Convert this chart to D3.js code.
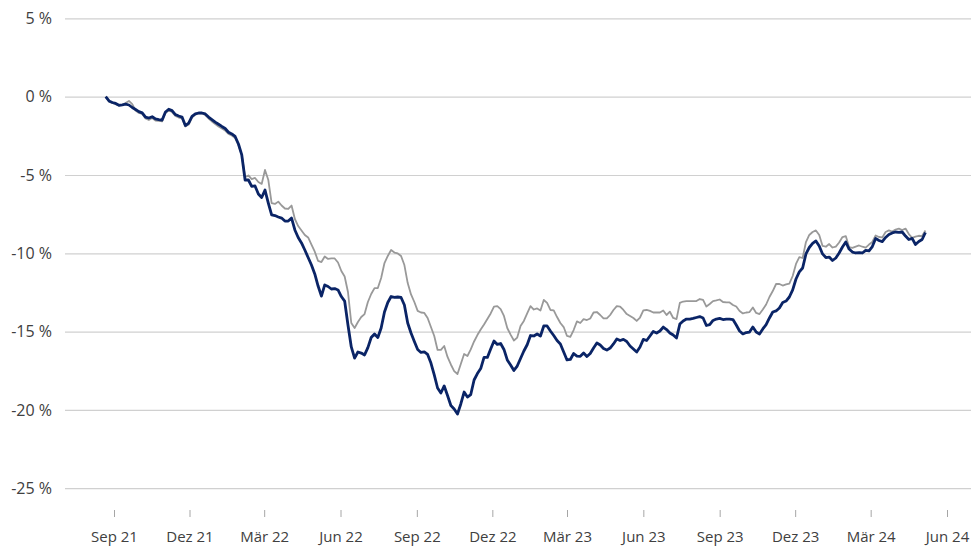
<!DOCTYPE html>
<html>
<head>
<meta charset="utf-8">
<script src="https://cdn.jsdelivr.net/npm/d3@7"></script>
<style>
  body { margin: 0; background: #fff; }
  svg { display: block; }
  .axis text { font-family: "Open Sans", sans-serif; fill: #404040; }
</style>
</head>
<body>
<div id="chart"></div>
<script>
var svgWidth = 971;
var svgHeight = 547;

// series start date, one value every 4 days
var startDate = new Date(2021, 7, 22);
var stepDays = 4;

// dark blue line (%)
var navyValues = [
  0, -0.27, -0.37, -0.43, -0.55, -0.52, -0.48, -0.53, -0.69, -0.82,
  -0.95, -1.03, -1.30, -1.36, -1.28, -1.42, -1.46, -1.49, -0.98, -0.80,
  -0.89, -1.14, -1.23, -1.30, -1.84, -1.68, -1.26, -1.10, -1.04, -1.04,
  -1.10, -1.30, -1.46, -1.62, -1.76, -1.90, -2.03, -2.27, -2.38, -2.54,
  -3.02, -3.72, -5.32, -5.32, -5.73, -5.70, -6.21, -6.44, -5.96, -6.79,
  -7.55, -7.59, -7.68, -7.75, -7.94, -7.94, -7.75, -8.51, -8.99, -9.34,
  -9.79, -10.27, -10.75, -11.32, -12.09, -12.73, -12.02, -12.12, -12.28, -12.25,
  -12.34, -12.76, -13.05, -14.58, -15.98, -16.69, -16.30, -16.37, -16.49, -16.02,
  -15.38, -15.15, -15.38, -14.77, -13.75, -13.14, -12.76, -12.82, -12.79, -12.82,
  -13.30, -14.45, -15.09, -15.63, -16.14, -16.33, -16.30, -16.46, -17.01, -17.77,
  -18.60, -18.92, -18.47, -19.08, -19.72, -19.94, -20.26, -19.62, -18.86, -19.18,
  -19.02, -18.09, -17.68, -17.36, -16.65, -16.65, -16.11, -15.60, -15.82, -15.76,
  -16.14, -16.81, -17.13, -17.48, -17.20, -16.72, -16.24, -15.84, -15.25, -15.28,
  -15.15, -15.28, -14.64, -14.64, -14.96, -15.25, -15.57, -15.79, -16.30, -16.81,
  -16.78, -16.40, -16.56, -16.58, -16.37, -16.59, -16.40, -16.05, -15.73, -15.86,
  -16.08, -16.18, -16.05, -15.79, -15.47, -15.57, -15.50, -15.63, -15.92, -16.11,
  -16.30, -15.98, -15.50, -15.57, -15.28, -14.99, -15.09, -14.96, -14.71, -14.87,
  -15.09, -15.22, -15.41, -14.52, -14.32, -14.20, -14.20, -14.16, -14.10, -14.04,
  -14.13, -14.61, -14.55, -14.29, -14.20, -14.16, -14.23, -14.20, -14.20, -14.23,
  -14.58, -14.96, -15.15, -15.06, -15.03, -14.71, -15.03, -15.15, -14.83, -14.55,
  -14.13, -13.75, -13.68, -13.49, -13.14, -13.05, -12.79, -12.34, -11.64, -11.19,
  -10.94, -10.04, -9.63, -9.37, -9.21, -9.53, -10.04, -10.27, -10.24, -10.46,
  -10.30, -9.98, -9.60, -9.28, -9.73, -9.92, -9.98, -9.95, -9.98, -9.81,
  -9.85, -9.57, -9.05, -9.18, -9.25, -8.99, -8.80, -8.70, -8.64, -8.67,
  -8.64, -8.90, -9.12, -9.05, -9.44, -9.25, -9.12, -8.67
];

// grey line (%)
var greyValues = [
  0, -0.31, -0.40, -0.47, -0.56, -0.53, -0.40, -0.27, -0.47, -0.88,
  -1.04, -1.10, -1.39, -1.49, -1.36, -1.52, -1.55, -1.58, -1.04, -0.88,
  -0.98, -1.23, -1.33, -1.39, -1.90, -1.78, -1.33, -1.14, -1.07, -1.07,
  -1.17, -1.39, -1.58, -1.74, -1.90, -2.03, -2.16, -2.38, -2.48, -2.64,
  -3.08, -3.72, -5.13, -5.03, -5.26, -5.19, -5.45, -5.57, -4.68, -5.32,
  -6.79, -6.85, -6.70, -6.95, -7.14, -7.17, -6.95, -7.81, -8.26, -8.54,
  -8.83, -8.99, -9.44, -9.90, -10.49, -10.56, -10.20, -10.36, -10.33, -10.33,
  -10.59, -11.13, -11.48, -12.47, -14.45, -14.77, -14.39, -14.07, -13.88, -13.11,
  -12.60, -12.22, -12.22, -11.58, -10.62, -10.17, -9.79, -9.95, -10.01, -10.17,
  -10.75, -11.90, -12.63, -13.11, -13.68, -13.78, -13.81, -14.13, -14.71, -15.28,
  -16.17, -16.17, -15.92, -16.62, -17.10, -17.52, -17.71, -17.07, -16.43, -16.56,
  -16.14, -15.63, -15.22, -14.87, -14.55, -14.20, -13.84, -13.40, -13.37, -13.56,
  -14.00, -14.77, -15.19, -15.57, -15.38, -14.64, -14.32, -13.84, -13.37, -13.59,
  -13.52, -13.65, -12.98, -13.17, -13.62, -13.65, -14.07, -14.45, -14.71, -15.28,
  -15.34, -14.90, -14.35, -14.45, -14.20, -14.26, -14.16, -13.78, -13.75, -13.94,
  -14.16, -14.16, -13.94, -13.62, -13.37, -13.40, -13.62, -13.88, -14.00, -14.13,
  -14.32, -14.10, -13.65, -13.62, -13.68, -13.78, -13.78, -13.78, -13.65, -13.94,
  -13.73, -14.13, -14.20, -13.17, -13.08, -13.05, -13.05, -13.05, -13.05, -12.92,
  -12.98, -13.40, -13.24, -13.05, -13.01, -12.95, -13.11, -13.14, -13.14, -13.30,
  -13.40, -13.68, -13.84, -13.78, -13.75, -13.46, -13.81, -13.88, -13.59, -13.27,
  -12.79, -12.41, -11.96, -11.96, -12.06, -11.99, -11.93, -11.45, -10.68, -10.24,
  -10.30, -9.28, -8.83, -8.64, -8.54, -8.83, -9.53, -9.58, -9.41, -9.63,
  -9.57, -9.31, -8.96, -8.90, -9.60, -9.65, -9.57, -9.50, -9.58, -9.64,
  -9.44, -9.28, -8.86, -8.96, -8.99, -8.64, -8.54, -8.61, -8.48, -8.42,
  -8.51, -8.42, -8.77, -9.01, -8.93, -8.88, -8.90, -8.54
];

// axis ticks
var yTicks = [5, 0, -5, -10, -15, -20, -25];
var tickDates = [
  new Date(2021, 8, 1), new Date(2021, 11, 1), new Date(2022, 2, 1), new Date(2022, 5, 1),
  new Date(2022, 8, 1), new Date(2022, 11, 1), new Date(2023, 2, 1), new Date(2023, 5, 1),
  new Date(2023, 8, 1), new Date(2023, 11, 1), new Date(2024, 2, 1), new Date(2024, 5, 1)
];
var tickLabels = ["Sep 21", "Dez 21", "Mär 22", "Jun 22", "Sep 22", "Dez 22",
  "Mär 23", "Jun 23", "Sep 23", "Dez 23", "Mär 24", "Jun 24"];

function dateAt(i) {
  var d = new Date(startDate);
  d.setDate(d.getDate() + i * stepDays);
  return d;
}

var navyData = navyValues.map((v, i) => ({ date: dateAt(i), value: v }));
var greyData = greyValues.map((v, i) => ({ date: dateAt(i), value: v }));

var svg = d3.select("#chart")
  .append("svg")
  .attr("width", svgWidth)
  .attr("height", svgHeight);

var plotLeft = 65;
var plotRight = 971;

var xScale = d3.scaleTime()
  .domain([tickDates[0], tickDates[tickDates.length - 1]])
  .range([114, 947]);

var yScale = d3.scaleLinear()
  .domain([-25, 5])
  .range([488.2, 18.4]);

// y axis with gridlines
var leftAxis = d3.axisLeft(yScale)
  .tickValues(yTicks)
  .tickSize(-(plotRight - plotLeft))
  .tickPadding(13)
  .tickFormat(d => d + " %");

var yAxis = svg.append("g")
  .attr("class", "axis")
  .attr("transform", `translate(${plotLeft}, 0)`)
  .call(leftAxis);

yAxis.select(".domain").remove();
yAxis.selectAll("line").attr("stroke", "#d0d0d0").attr("stroke-width", 1.2);
yAxis.selectAll("text").style("font-size", "16px");

// x axis: tick marks and labels only
var bottomAxis = d3.axisBottom(xScale)
  .tickValues(tickDates)
  .tickSize(7)
  .tickPadding(14)
  .tickFormat((d, i) => tickLabels[i]);

var xAxis = svg.append("g")
  .attr("class", "axis")
  .attr("transform", "translate(0, 510)")
  .call(bottomAxis);

xAxis.select(".domain").remove();
xAxis.selectAll("line").attr("stroke", "#a6a6a6");
xAxis.selectAll("text").style("font-size", "15px");

var line = d3.line()
  .x(d => xScale(d.date))
  .y(d => yScale(d.value));

svg.append("path")
  .datum(greyData)
  .attr("fill", "none")
  .attr("stroke", "#999999")
  .attr("stroke-width", 1.8)
  .attr("stroke-linejoin", "round")
  .attr("d", line);

svg.append("path")
  .datum(navyData)
  .attr("fill", "none")
  .attr("stroke", "#0a2466")
  .attr("stroke-width", 2.8)
  .attr("stroke-linejoin", "round")
  .attr("d", line);
</script>
</body>
</html>
